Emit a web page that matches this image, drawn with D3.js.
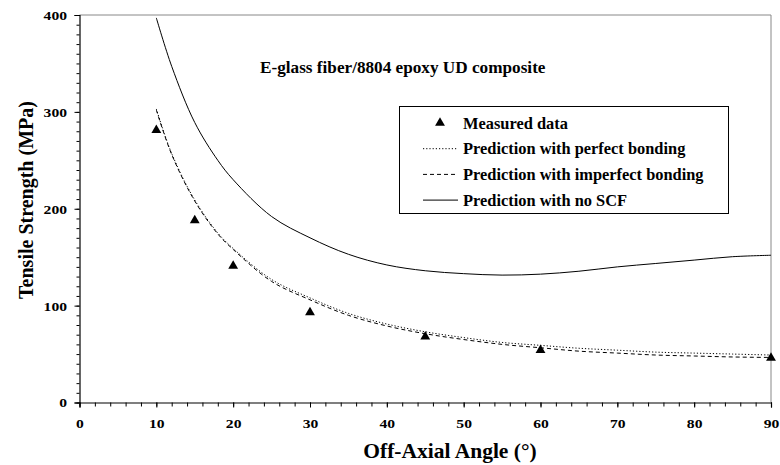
<!DOCTYPE html>
<html>
<head>
<meta charset="utf-8">
<script src="https://cdn.jsdelivr.net/npm/d3@7"></script>
<style>
body { margin: 0; background: #fff; }
text { font-family: "Liberation Serif", "Times New Roman", serif; font-weight: bold; }
</style>
</head>
<body>
<div id="chart"></div>
<script>
const angles = [10, 12, 15, 18, 20, 25, 30, 35, 40, 45, 50, 55, 60, 65, 70, 75, 80, 85, 90]
const noScf = [397, 347, 289, 250, 230, 192, 170, 153, 142, 136, 133, 131.5, 132.5, 135.5, 140, 143.5, 147, 150.5, 152]
const perfect = [303, 257, 209, 175, 159, 127, 108, 92, 81, 73, 67, 62, 59, 56, 54, 52, 51, 50, 49]
const imperfect = [302, 256, 208, 174, 158, 125, 106, 90, 79, 71, 65, 60, 56.5, 53, 51, 49, 48, 47, 46.5]
const measuredAngle = [10, 15, 20, 30, 45, 60, 90]
const measuredValue = [281, 188, 141, 93, 68, 54, 46]
const legendLabels = ["Measured data", "Prediction with perfect bonding", "Prediction with imperfect bonding", "Prediction with no SCF"]

var width = 780, height = 465
const m = {left: 79.5, right: 9, top: 15, bottom: 62.5}
const svg = d3.select('#chart').append('svg').attr('width', width).attr('height', height)

const x = d3.scaleLinear().domain([0, 90]).range([m.left, width - m.right])
const y = d3.scaleLinear().domain([0, 400]).range([height - m.bottom, m.top])
const sx = 1.25 // tick labels look stretched sideways

// box top and right
svg.append('line').attr('x1', x(0)).attr('x2', x(90)).attr('y1', y(400)).attr('y2', y(400)).attr('stroke', '#888')
svg.append('line').attr('x1', x(90)).attr('x2', x(90)).attr('y1', y(400)).attr('y2', y(0)).attr('stroke', '#888')

// minor ticks
svg.append('g').attr('transform', `translate(0,${y(0)})`)
    .call(d3.axisBottom(x).tickValues(d3.range(0, 91, 2)).tickSize(4).tickFormat(''))
    .call(g => g.select('.domain').remove())
svg.append('g').attr('transform', `translate(${x(0)},0)`)
    .call(d3.axisLeft(y).tickValues(d3.range(0, 401, 10)).tickSize(3).tickFormat(''))
    .call(g => g.select('.domain').remove())

const xAxis = svg.append('g').attr('transform', `translate(0,${y(0)})`)
    .call(d3.axisBottom(x).tickValues(d3.range(0, 91, 10)).tickSize(5).tickPadding(12))
xAxis.selectAll('text').attr('font-size', 12.5).attr('fill', '#000').attr('transform', `scale(${sx},1)`)
const yAxis = svg.append('g').attr('transform', `translate(${x(0)},0)`)
    .call(d3.axisLeft(y).tickValues([0, 100, 200, 300, 400]).tickSize(5))
yAxis.selectAll('text').attr('font-size', 12.5).attr('fill', '#000').attr('dy', '0.35em')
    .attr('x', -12.5 / sx).attr('transform', `scale(${sx},1)`)
svg.selectAll('.domain').attr('stroke', '#000').attr('stroke-width', 1.2)

const line = d3.line().x(d => x(d[0])).y(d => y(d[1])).curve(d3.curveCatmullRom)
const series = [
    {vals: perfect, dash: '1.2,2'},
    {vals: imperfect, dash: '4,3'},
    {vals: noScf, dash: null}
]
series.forEach(s => {
    svg.append('path')
        .datum(angles.map((a, i) => [a, s.vals[i]]))
        .attr('d', line)
        .attr('fill', 'none')
        .attr('stroke', '#000')
        .attr('stroke-width', 1)
        .attr('stroke-dasharray', s.dash)
})

const tri = d3.symbol().type(d3.symbolTriangle).size(42)
svg.selectAll('.pt')
    .data(measuredAngle.map((a, i) => [a, measuredValue[i]])).enter()
    .append('path')
    .attr('class', 'pt')
    .attr('transform', d => `translate(${x(d[0])},${y(d[1])})`)
    .attr('d', tri)
    .attr('fill', '#000')

// title
svg.append('text').attr('x', 260).attr('y', 73).attr('font-size', 17.2).text('E-glass fiber/8804 epoxy UD composite')

// legend
const lg = svg.append('g')
lg.append('rect').attr('x', 399.5).attr('y', 106.5).attr('width', 329).attr('height', 107)
    .attr('fill', '#fff').attr('stroke', '#000')
legendLabels.forEach((t, i) => {
    const ly = 123 + i * 25.7
    if (i === 0) {
        lg.append('path').attr('transform', `translate(440,${ly})`).attr('d', tri).attr('fill', '#000')
    } else {
        lg.append('line').attr('x1', 423).attr('x2', 458).attr('y1', ly).attr('y2', ly)
            .attr('stroke', '#000').attr('stroke-dasharray', series[i - 1].dash)
    }
    lg.append('text').attr('x', 463).attr('y', ly + 5.5).attr('font-size', 16.4).text(t)
})

// axis labels
svg.append('text').attr('x', 450).attr('y', 458).attr('text-anchor', 'middle').attr('font-size', 21.5)
    .text('Off-Axial Angle (°)')
svg.append('text').attr('transform', `translate(33,200) rotate(-90)`).attr('text-anchor', 'middle')
    .attr('font-size', 20).text('Tensile Strength (MPa)')
</script>
</body>
</html>
